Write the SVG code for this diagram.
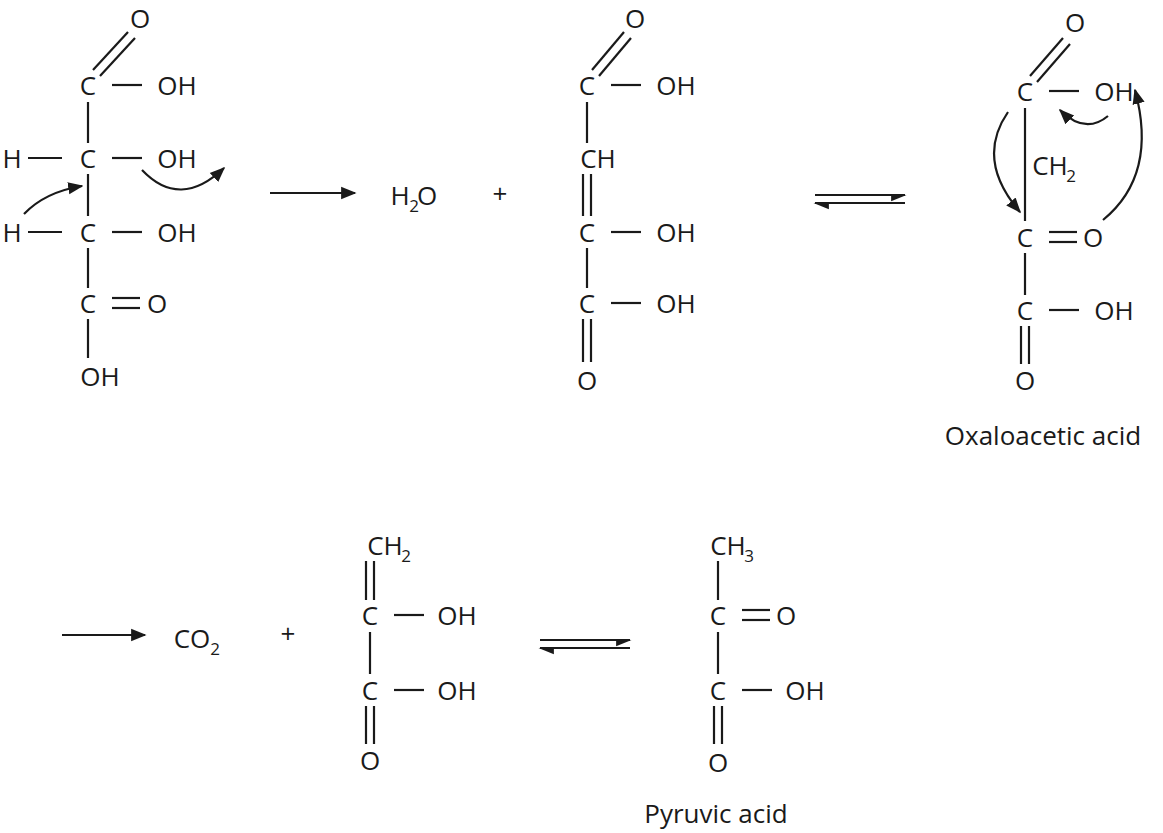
<svg xmlns="http://www.w3.org/2000/svg" width="1163" height="833" viewBox="0 0 1163 833">
<defs>
<style>
text{font-family:"Open Sans","Liberation Sans",sans-serif;font-size:26px;fill:#1a1a1a;text-anchor:middle;dominant-baseline:central}
.s{font-size:17px}
.p{font-size:26px}
line,path{stroke:#1a1a1a;stroke-width:2.2;fill:none}
path.m{fill:#1a1a1a;stroke:none}
</style>
<marker id="a" viewBox="0 0 10 10" refX="9" refY="5" markerWidth="7" markerHeight="7" orient="auto"><path class="m" d="M0,1L10,5L0,9z"/></marker>
<marker id="h" viewBox="0 0 10 10" refX="9" refY="5" markerWidth="7" markerHeight="7" orient="auto"><path class="m" d="M0,1L10,5L0,5.5z"/></marker>
<marker id="h2" viewBox="0 0 10 10" refX="9" refY="5" markerWidth="7" markerHeight="7" orient="auto"><path class="m" d="M0,9L10,5L0,4.5z"/></marker>
</defs>
<rect width="1163" height="833" fill="#fff"/>
<g id="mol1">
<text x="140" y="18">O</text>
<line x1="93" y1="70" x2="128" y2="32"/><line x1="100" y1="76" x2="135" y2="38"/>
<text x="88" y="85">C</text><line x1="112" y1="85" x2="142" y2="85"/><text x="177" y="85">OH</text>
<line x1="88" y1="102" x2="88" y2="143"/>
<text x="12" y="158">H</text><line x1="28" y1="158" x2="62" y2="158"/>
<text x="88" y="158">C</text><line x1="112" y1="158" x2="142" y2="158"/><text x="177" y="158">OH</text>
<line x1="88" y1="174" x2="88" y2="216"/>
<text x="12" y="232">H</text><line x1="28" y1="232" x2="62" y2="232"/>
<text x="88" y="232">C</text><line x1="112" y1="232" x2="142" y2="232"/><text x="177" y="232">OH</text>
<line x1="88" y1="248" x2="88" y2="288"/>
<text x="88" y="303">C</text><line x1="112" y1="298" x2="140" y2="298"/><line x1="112" y1="308" x2="140" y2="308"/><text x="157" y="303">O</text>
<line x1="88" y1="319" x2="88" y2="358"/>
<text x="100" y="376">OH</text>
<path d="M142,170 Q180,210 224,168" marker-end="url(#a)"/>
<path d="M24,214 Q45,192 82,186" marker-end="url(#a)"/>
</g>
<g id="mol2">
<text x="635" y="18">O</text>
<line x1="592" y1="70" x2="624" y2="32"/><line x1="599" y1="76" x2="631" y2="38"/>
<text x="587" y="85">C</text><line x1="611" y1="85" x2="641" y2="85"/><text x="676" y="85">OH</text>
<line x1="587" y1="102" x2="587" y2="143"/>
<text x="598" y="158">CH</text>
<line x1="583" y1="174" x2="583" y2="216"/><line x1="591" y1="174" x2="591" y2="216"/>
<text x="587" y="232">C</text><line x1="611" y1="232" x2="641" y2="232"/><text x="676" y="232">OH</text>
<line x1="587" y1="248" x2="587" y2="288"/>
<text x="587" y="303">C</text><line x1="611" y1="303" x2="641" y2="303"/><text x="676" y="303">OH</text>
<line x1="583" y1="319" x2="583" y2="362"/><line x1="591" y1="319" x2="591" y2="362"/>
<text x="587" y="380">O</text>
</g>
<g id="mol3">
<text x="1075" y="22">O</text>
<line x1="1030" y1="76" x2="1063" y2="38"/><line x1="1037" y1="82" x2="1070" y2="44"/>
<text x="1025" y="91">C</text><line x1="1049" y1="91" x2="1079" y2="91"/><text x="1114" y="91">OH</text>
<line x1="1025" y1="108" x2="1025" y2="221"/>
<text x="1050" y="165">CH</text><text x="1071" y="175" class="s">2</text>
<text x="1025" y="237">C</text><line x1="1049" y1="232" x2="1077" y2="232"/><line x1="1049" y1="242" x2="1077" y2="242"/><text x="1093" y="237">O</text>
<line x1="1025" y1="253" x2="1025" y2="295"/>
<text x="1025" y="310">C</text><line x1="1049" y1="310" x2="1079" y2="310"/><text x="1114" y="310">OH</text>
<line x1="1021" y1="326" x2="1021" y2="364"/><line x1="1029" y1="326" x2="1029" y2="364"/>
<text x="1025" y="380">O</text>
<path d="M1008,112 Q975,160 1020,212" marker-end="url(#a)"/>
<path d="M1108,116 Q1085,135 1060,110" marker-end="url(#a)"/>
<path d="M1103,220 Q1158,175 1135,90" marker-end="url(#a)"/>
<text x="1043" y="435">Oxaloacetic acid</text>
</g>
<g id="mol4">
<text x="385" y="545">CH</text><text x="406" y="555" class="s">2</text>
<line x1="366" y1="561" x2="366" y2="600"/><line x1="374" y1="561" x2="374" y2="600"/>
<text x="370" y="615">C</text><line x1="394" y1="615" x2="424" y2="615"/><text x="457" y="615">OH</text>
<line x1="370" y1="632" x2="370" y2="674"/>
<text x="370" y="690">C</text><line x1="394" y1="690" x2="424" y2="690"/><text x="457" y="690">OH</text>
<line x1="366" y1="706" x2="366" y2="744"/><line x1="374" y1="706" x2="374" y2="744"/>
<text x="370" y="760">O</text>
</g>
<g id="mol5">
<text x="728" y="545">CH</text><text x="749" y="555" class="s">3</text>
<line x1="718" y1="561" x2="718" y2="600"/>
<text x="718" y="615">C</text><line x1="742" y1="610" x2="770" y2="610"/><line x1="742" y1="620" x2="770" y2="620"/><text x="786" y="615">O</text>
<line x1="718" y1="632" x2="718" y2="674"/>
<text x="718" y="690">C</text><line x1="742" y1="690" x2="772" y2="690"/><text x="805" y="690">OH</text>
<line x1="714" y1="706" x2="714" y2="744"/><line x1="722" y1="706" x2="722" y2="744"/>
<text x="718" y="762">O</text>
<text x="716" y="813">Pyruvic acid</text>
</g>
<g id="small">
<text x="400" y="195">H</text><text x="414" y="205" class="s">2</text><text x="427" y="195">O</text>
<text x="500" y="193" class="p">+</text>
<text x="192" y="638">CO</text><text x="215" y="648" class="s">2</text>
<text x="288" y="633" class="p">+</text>
</g>
<g id="connectors">
<line x1="270" y1="193" x2="355" y2="193" marker-end="url(#a)"/>
<line x1="62" y1="635" x2="145" y2="635" marker-end="url(#a)"/>
<line x1="815" y1="195" x2="905" y2="195" marker-end="url(#h2)"/>
<line x1="905" y1="203" x2="815" y2="203" marker-end="url(#h)"/>
<line x1="540" y1="640" x2="630" y2="640" marker-end="url(#h2)"/>
<line x1="630" y1="648" x2="540" y2="648" marker-end="url(#h)"/>
</g>
</svg>
